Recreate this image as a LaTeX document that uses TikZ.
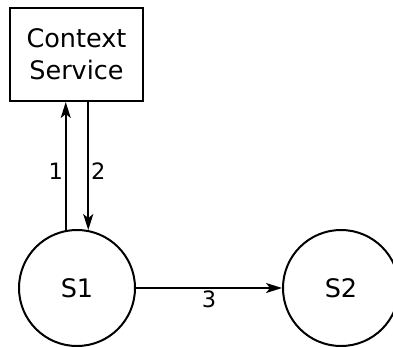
\documentclass[tikz,border=0pt]{standalone}
\usepackage{fontspec}
\setmainfont{DejaVu Sans}
\usetikzlibrary{arrows.meta}
\begin{document}
\begin{tikzpicture}[x=1pt,y=-1pt,
  line width=2pt,
  bigtext/.style={font=\fontsize{25.5}{32}\selectfont},
  smalltext/.style={font=\fontsize{22.5}{26}\selectfont},
  service/.style={draw, rectangle, minimum width=133pt, minimum height=93pt,
    inner sep=0pt, align=center, bigtext},
  state/.style={draw, circle, minimum size=116pt, inner sep=0pt, bigtext},
  msg/.style={-{Stealth[length=16pt,width=10pt,inset=4pt]}}]
  \useasboundingbox (0,0) rectangle (393,346);
  \node[service] (ctx) at (76.5,54.5) {Context\\Service};
  \node[state] (s1) at (77,288) {S1};
  \node[state] (s2) at (341,288) {S2};
  % request and reply between S1 and the context service
  \draw[msg] (s1.101) -- (s1.101 |- ctx.south)
    node[pos=0.46, left=-1.5pt, smalltext] {1};
  \draw[msg] (ctx.south -| s1.79) -- (s1.79)
    node[pos=0.54, right=-1.5pt, smalltext] {2};
  % hand-over from S1 to S2
  \draw[msg] (s1.east) -- (s2.west)
    node[midway, below=-2pt, smalltext] {3};
\end{tikzpicture}
\end{document}
